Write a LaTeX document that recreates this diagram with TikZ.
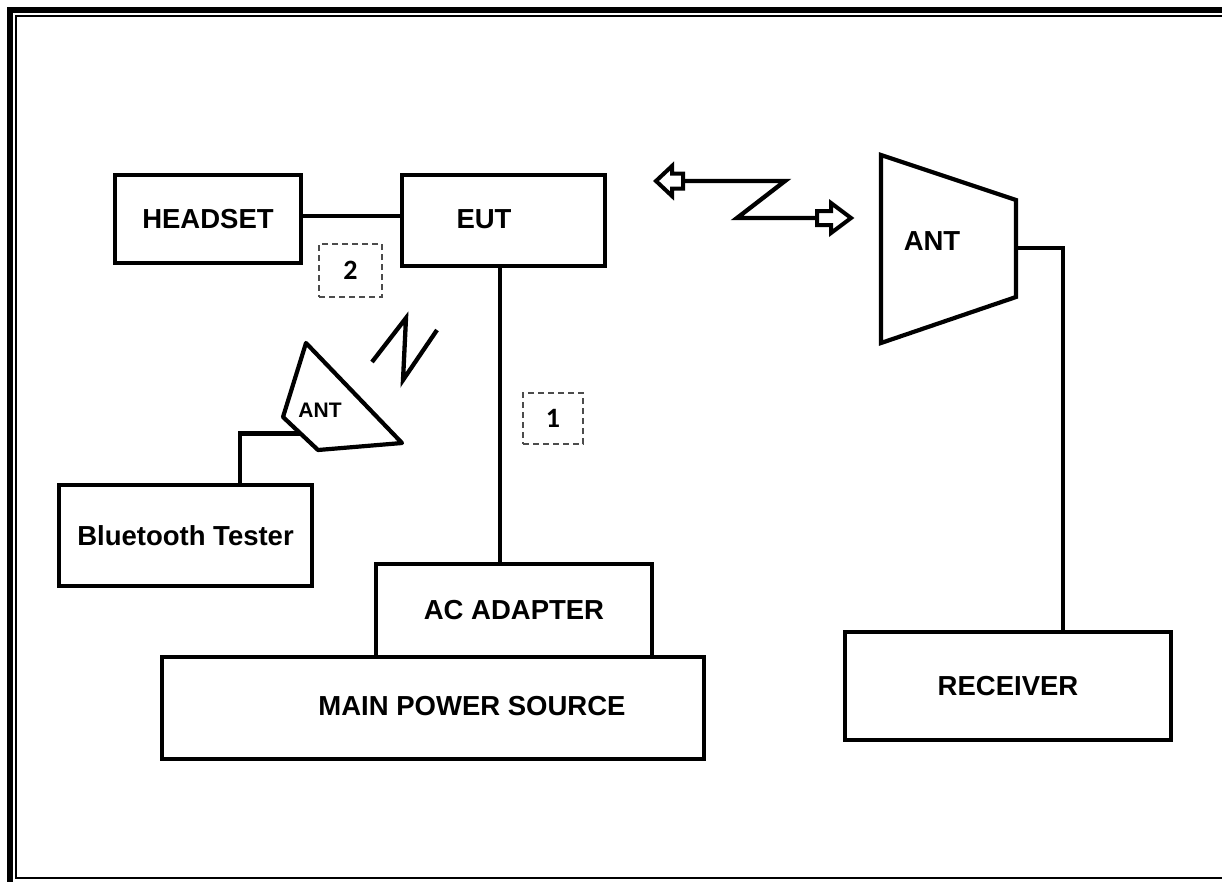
\documentclass[tikz,border=0pt]{standalone}
\usepackage{fontspec}
\setmainfont{Liberation Sans}
\newfontfamily\numfont{Carlito}
\begin{document}
\begin{tikzpicture}[x=1pt,y=-1pt,
        box/.style={draw,line width=4.2pt,inner sep=0pt,font=\fontsize{27.5}{30}\selectfont\bfseries},
        lbl/.style={inner sep=0pt,font=\fontsize{27.5}{30}\selectfont\bfseries},
        numbox/.style={draw=black!70,dash pattern=on 6pt off 4pt,line width=1.6pt,inner sep=0pt,minimum width=63pt,minimum height=53pt,font=\fontsize{28}{30}\selectfont\numfont\bfseries},
        link/.style={line width=3.5pt},
        wire/.style={line width=4.2pt},
        zz/.style={line width=4.3pt,line join=miter}]
            \useasboundingbox (0,0) rectangle (1222,881);
            \draw[line width=6pt] (10,10) rectangle (1260,920);
            \draw[line width=1.8pt] (15.8,15.8) rectangle (1250,878);
            \node[box,minimum width=186pt,minimum height=88pt] (hs) at (208,219) {HEADSET};
            \node[box,minimum width=203pt,minimum height=91pt] (eut) at (503.5,220.5) {};
            \node[lbl] at (484,219) {EUT};
            \node[box,minimum width=542pt,minimum height=102pt] (mps) at (433,708) {};
            \node[lbl] at (472,706) {MAIN POWER SOURCE};
            \node[box,minimum width=276pt,minimum height=93pt] (ac) at (514,610.5) {AC ADAPTER};
            \node[box,minimum width=253pt,minimum height=101pt] (bt) at (185.5,535.5) {Bluetooth Tester};
            \node[box,minimum width=326pt,minimum height=108pt] (rcv) at (1008,686) {RECEIVER};
            \node[numbox] (d2) at (350.5,270.5) {2};
            \node[numbox,minimum width=60pt,minimum height=51pt] (d1) at (553,418.5) {1};
            \draw[link] ([yshift=3pt]hs.east) -- ([yshift=3pt]hs.east -| eut.west);
            \draw[link] ([xshift=-3.5pt]eut.south) -- ([xshift=-3.5pt]eut.south |- ac.north);
            \coordinate (sa1) at (306,343);
            \coordinate (sa2) at (283,417);
            \coordinate (sa3) at (318,450);
            \coordinate (sa4) at (402,443);
            \coordinate (sfeed) at (300.5,433.5);
            \draw[wire,line join=round] (sa1) -- (sa2) -- (sa3) -- (sa4) -- cycle;
            \node[lbl,font=\fontsize{21}{23}\selectfont\bfseries] at (320,410) {ANT};
            \draw[wire] (sfeed) -| ([xshift=54.5pt]bt.north);
            \coordinate (ba1) at (881,155);
            \coordinate (ba2) at (1016,200);
            \coordinate (ba3) at (1016,297);
            \coordinate (ba4) at (881,343);
            \coordinate (bfeed) at (1016,248);
            \draw[wire] (ba1) -- (ba2) -- (ba3) -- (ba4) -- cycle;
            \node[lbl] at (932,241) {ANT};
            \draw[wire] (bfeed) -| ([xshift=55pt]rcv.north);
            \draw[zz] (372,362) -- (406,318) -- (403,380) -- (437,330);
            \coordinate (zl) at (683,181);
            \coordinate (zr) at (817,218);
            \draw[zz] (zl) -- (785,181) -- (737,218) -- (zr);
            \draw[line width=4pt,line join=miter] (zl) -- (683,173.5) -- (672,173.5) -- (672,166) -- (656,181) -- (672,196) -- (672,188.5) -- (683,188.5) -- cycle;
            \draw[line width=4pt,line join=miter] (zr) -- (817,211) -- (831,211) -- (831,203) -- (851,218) -- (831,233) -- (831,225) -- (817,225) -- cycle;
        \end{tikzpicture}
\end{document}
